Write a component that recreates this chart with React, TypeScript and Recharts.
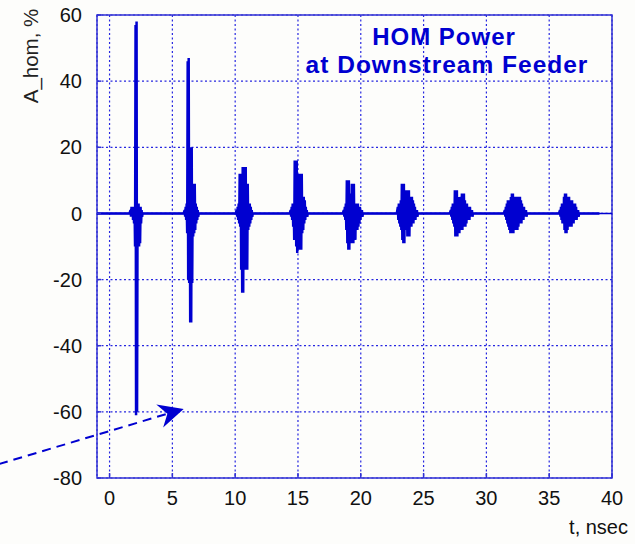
import { LineChart, Line, XAxis, YAxis, CartesianGrid, ReferenceLine, ReferenceArea } from "recharts";

const X_TICKS = [0, 5, 10, 15, 20, 25, 30, 35, 40];
const Y_TICKS = [-80, -60, -40, -20, 0, 20, 40, 60];

// onset of each HOM burst, ns
const burstStarts = [1.67, 5.98, 10.12, 14.42, 18.65, 22.95, 27.17, 31.47, 35.86];
const sampleStep = 0.08;

// upper / lower envelope of each burst (%)
const burstPeaks = [
  [1, 2, 2, 2, 2, 57, 58, 3, 3, 2, 2, 1],
  [1, 2, 3, 46, 47, 20, 20, 20, 9, 9, 9, 3, 2, 1],
  [1, 2, 3, 12, 12, 12, 14, 14, 14, 14, 9, 9, 3, 3, 2, 1],
  [1, 2, 3, 3, 16, 16, 16, 12, 12, 12, 12, 12, 5, 5, 4, 2, 1],
  [1, 2, 3, 10, 10, 10, 6, 6, 9, 9, 9, 3, 3, 3, 3, 2, 2, 1, 1],
  [2, 3, 3, 4, 9, 9, 9, 7, 7, 7, 7, 7, 5, 5, 5, 4, 3, 2, 1, 1],
  [1, 2, 3, 3, 7, 7, 7, 5, 5, 5, 5, 6, 6, 6, 4, 3, 3, 2, 2, 2, 1, 1],
  [1, 2, 3, 4, 4, 4, 5, 6, 6, 5, 5, 5, 5, 5, 5, 5, 4, 3, 2, 2, 1, 1],
  [1, 2, 3, 3, 5, 6, 6, 5, 5, 5, 4, 4, 4, 3, 3, 3, 2, 1, 1],
];
const burstTroughs = [
  [-1, -1, -2, -3, -10, -61, -60, -10, -10, -9, -3, -1],
  [-1, -2, -6, -20, -21, -33, -33, -21, -7, -6, -5, -3, -2, -1],
  [-1, -2, -3, -4, -17, -24, -24, -17, -17, -17, -17, -5, -4, -3, -2, -1],
  [-1, -2, -4, -8, -8, -10, -12, -8, -11, -11, -11, -6, -5, -3, -2, -1, -1],
  [-1, -2, -5, -9, -11, -11, -9, -9, -9, -9, -8, -8, -5, -5, -4, -3, -2, -1, -1],
  [-2, -3, -4, -5, -8, -9, -9, -5, -5, -7, -7, -7, -4, -4, -3, -3, -2, -2, -1, -1],
  [-1, -2, -3, -4, -7, -7, -7, -6, -6, -5, -5, -5, -4, -4, -4, -3, -2, -2, -2, -1, -1, -1],
  [-1, -2, -3, -4, -5, -6, -6, -6, -6, -5, -5, -5, -5, -4, -3, -3, -3, -2, -2, -1, -1, -1],
  [-1, -2, -3, -3, -5, -6, -6, -5, -4, -4, -4, -4, -3, -3, -2, -2, -2, -1, -1],
];
const traceStart = -1;
const traceEnd = 39;

// dashed pointer arrow (annotation)
const arrowFrom = { x: -8.8, y: -75.8 };
const arrowTo = { x: 5.9, y: -59.1 };

const BLUE = "#0000d0";
const GRID = "#2626e0";
const FRAME = "#3030d4";
const FONT = "Arial, 'Liberation Sans', sans-serif";

const trace: { t: number; a: number }[] = [{ t: traceStart, a: 0 }];
burstStarts.forEach((s, b) => {
  trace.push({ t: s - sampleStep, a: 0 });
  burstPeaks[b].forEach((up, i) => {
    trace.push({ t: s + i * sampleStep, a: up });
    trace.push({ t: s + (i + 0.5) * sampleStep, a: burstTroughs[b][i] });
  });
  trace.push({ t: s + burstPeaks[b].length * sampleStep, a: 0 });
});
trace.push({ t: traceEnd, a: 0 });

function YTick(props: any) {
  const { x, y, payload } = props;
  const axisX = x + 15;
  return (
    <g>
      <line x1={axisX} x2={axisX + 4} y1={y} y2={y} stroke={FRAME} strokeWidth={1.5} />
      <text x={x} y={y} dy="0.36em" textAnchor="end" fill="#111" fontSize={20} fontFamily={FONT}>
        {payload.value}
      </text>
    </g>
  );
}

function XTick(props: any) {
  const { x, y, payload } = props;
  const axisY = y - 13;
  return (
    <g>
      <line x1={x} x2={x} y1={axisY} y2={axisY - 5} stroke={FRAME} strokeWidth={1.5} />
      <text x={x} y={y} dy="0.71em" textAnchor="middle" fill="#111" fontSize={20} fontFamily={FONT}>
        {payload.value}
      </text>
    </g>
  );
}

function DashedArrow(props: any) {
  const { x1, y1, x2, y2 } = props;
  const ang = Math.atan2(y2 - y1, x2 - x1);
  const ux = Math.cos(ang);
  const uy = Math.sin(ang);
  const len = 25;
  const half = 12;
  const notch = 17;
  const bx = x2 - ux * len;
  const by = y2 - uy * len;
  const nx = x2 - ux * notch;
  const ny = y2 - uy * notch;
  const head = `M${x2},${y2} L${bx - uy * half},${by + ux * half} L${nx},${ny} L${bx + uy * half},${by - ux * half} Z`;
  return (
    <g>
      <line x1={x1} y1={y1} x2={nx} y2={ny} stroke={BLUE} strokeWidth={2} strokeDasharray="9 6" />
      <path d={head} fill={BLUE} />
    </g>
  );
}

export default function App() {
  return (
    <div style={{ position: "absolute", left: 0, top: 0, width: 635, height: 544, background: "#fdfdfb" }}>
      <LineChart width={635} height={544} data={trace} margin={{ top: 15, right: 23, bottom: 36, left: 0 }}>
        <CartesianGrid stroke={GRID} strokeDasharray="2 2.5" strokeWidth={1.2} />
        <XAxis
          dataKey="t"
          type="number"
          domain={[-1, 40]}
          ticks={X_TICKS}
          allowDataOverflow
          height={30}
          axisLine={false}
          tickLine={false}
          tickSize={6}
          tickMargin={7}
          tick={<XTick />}
          interval={0}
        />
        <YAxis
          type="number"
          domain={[-80, 60]}
          ticks={Y_TICKS}
          allowDataOverflow
          width={97}
          axisLine={false}
          tickLine={false}
          tickSize={6}
          tickMargin={9}
          tick={<YTick />}
          interval={0}
        />
        <ReferenceArea x1={-1} x2={40} y1={-80} y2={60} fill="none" stroke={FRAME} strokeWidth={1.5} />
        <ReferenceLine y={0} stroke={BLUE} strokeWidth={1.5} />
        <Line
          type="linear"
          dataKey="a"
          stroke={BLUE}
          strokeWidth={2.5}
          dot={false}
          activeDot={false}
          isAnimationActive={false}
        />
        <ReferenceLine
          segment={[arrowFrom, arrowTo]}
          ifOverflow="visible"
          shape={<DashedArrow />}
        />
      </LineChart>
      <svg width={635} height={544} style={{ position: "absolute", left: 0, top: 0, pointerEvents: "none" }}>
        <text x={444} y={45} textAnchor="middle" fill={BLUE} fontSize={24} fontWeight="bold" letterSpacing={1} fontFamily={FONT}>
          HOM Power
        </text>
        <text x={447} y={73} textAnchor="middle" fill={BLUE} fontSize={24.5} fontWeight="bold" letterSpacing={1} fontFamily={FONT}>
          at Downstream Feeder
        </text>
        <text
          transform="translate(31,56) rotate(-90)"
          textAnchor="middle"
          dy="0.36em"
          fill="#222"
          fontSize={20.5}
          fontFamily={FONT}
        >
          A_hom, %
        </text>
        <text x={628} y={534} textAnchor="end" fill="#111" fontSize={20} fontFamily={FONT}>
          t, nsec
        </text>
      </svg>
    </div>
  );
}
